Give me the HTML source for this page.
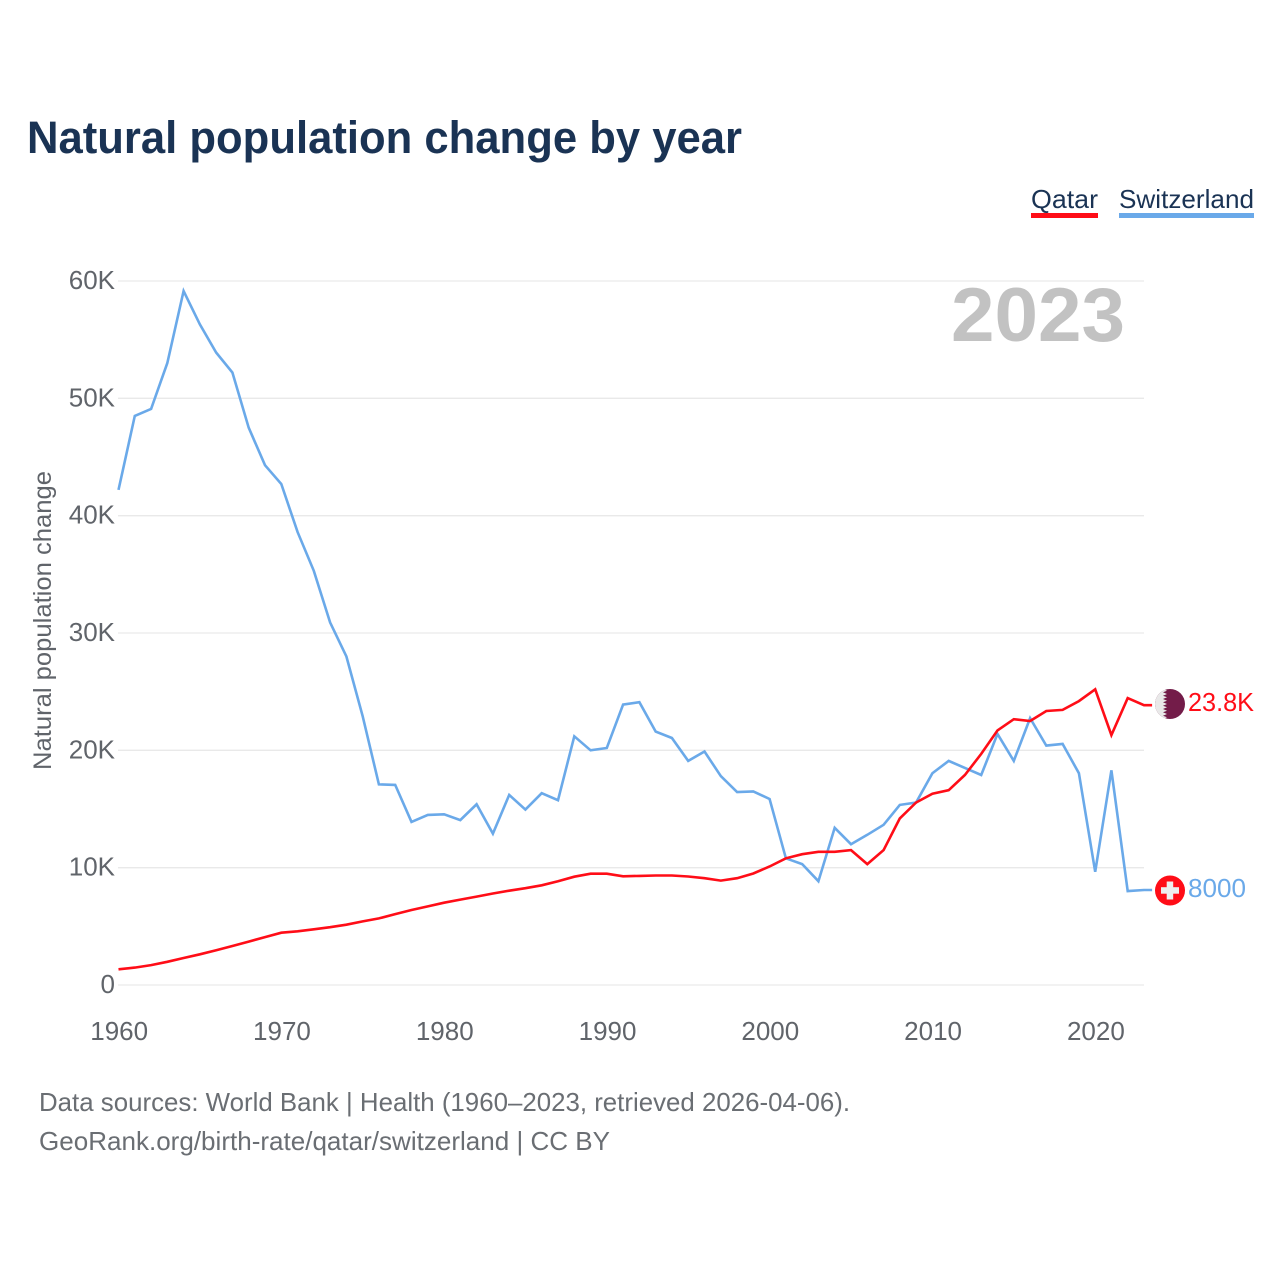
<!DOCTYPE html>
<html lang="en">
<head>
<meta charset="utf-8">
<title>Natural population change by year</title>
<style>
html,body{margin:0;padding:0;background:#fff;width:1280px;height:1280px;overflow:hidden}
svg{display:block;font-family:"Liberation Sans",sans-serif}
</style>
</head>
<body>
<svg id="chart" width="1280" height="1280" viewBox="0 0 1280 1280" xmlns="http://www.w3.org/2000/svg">
  <rect x="0" y="0" width="1280" height="1280" fill="#ffffff"/>
  <text x="27" y="153" font-size="45" font-weight="700" fill="#1a3354" textLength="715" lengthAdjust="spacingAndGlyphs">Natural population change by year</text>

  <g>
    <g>
      <text x="1031" y="208" font-size="26" fill="#1a3354" textLength="67" lengthAdjust="spacingAndGlyphs">Qatar</text>
      <rect x="1031" y="213" width="67" height="5" fill="#ff0d17"/>
    </g>
    <g>
      <text x="1119" y="208" font-size="26" fill="#1a3354" textLength="135" lengthAdjust="spacingAndGlyphs">Switzerland</text>
      <rect x="1119" y="213" width="135" height="5" fill="#6aa9e9"/>
    </g>
  </g>

  <g id="grid"></g>
  <text x="951" y="341" font-size="76" font-weight="700" fill="#c2c2c2" textLength="174" lengthAdjust="spacingAndGlyphs">2023</text>
  <g id="y-ticks"></g>
  <g id="x-ticks"></g>
  <text transform="translate(51,770) rotate(-90)" font-size="25" fill="#60646a" textLength="299" lengthAdjust="spacingAndGlyphs">Natural population change</text>

  <path id="line-switzerland" fill="none" stroke="#6aa9e9" stroke-width="2.6" stroke-linejoin="miter"/>
  <path id="line-qatar" fill="none" stroke="#ff0d17" stroke-width="2.6" stroke-linejoin="miter"/>

  <defs>
    <clipPath id="qatar-clip"><circle cx="1170" cy="704" r="15"/></clipPath>
    <clipPath id="swiss-clip"><circle cx="1170" cy="890.5" r="15"/></clipPath>
  </defs>
  <g id="flag-qatar" clip-path="url(#qatar-clip)">
    <rect x="1155" y="689" width="30" height="30" fill="#731c49"/>
    <polygon points="1155,689 1163,689 1167,690.7 1163,692.3 1167,694 1163,695.7 1167,697.3 1163,699 1167,700.7 1163,702.3 1167,704 1163,705.7 1167,707.3 1163,709 1167,710.7 1163,712.3 1167,714 1163,715.7 1167,717.3 1163,719 1155,719" fill="#e9e9e9"/>
  </g>
  <g id="flag-switzerland" clip-path="url(#swiss-clip)">
    <rect x="1155" y="875" width="30" height="31" fill="#ff0d17"/>
    <rect x="1161" y="887.2" width="18" height="6.5" fill="#eeeeee"/>
    <rect x="1166.7" y="881.5" width="6.5" height="18" fill="#eeeeee"/>
  </g>
  <text id="value-qatar" x="1188" y="711" font-size="26" fill="#ff0d17" textLength="66" lengthAdjust="spacingAndGlyphs">23.8K</text>
  <text id="value-switzerland" x="1188" y="897" font-size="26" fill="#6aa9e9" textLength="58" lengthAdjust="spacingAndGlyphs">8000</text>

  <g>
    <text x="39" y="1111" font-size="26" fill="#6a6e73" textLength="811" lengthAdjust="spacingAndGlyphs">Data sources: World Bank | Health (1960–2023, retrieved 2026-04-06).</text>
    <text x="39" y="1150" font-size="26" fill="#6a6e73" textLength="571" lengthAdjust="spacingAndGlyphs">GeoRank.org/birth-rate/qatar/switzerland | CC BY</text>
  </g>
</svg>
<script>
const startYear = 1960;
const yTickValues = [0, 10, 20, 30, 40, 50, 60];
const yTickLabels = ["0", "10K", "20K", "30K", "40K", "50K", "60K"];
const xTickYears = [1960, 1970, 1980, 1990, 2000, 2010, 2020];
const qatarValues = [1.34,1.48,1.7,1.98,2.3,2.62,2.97,3.32,3.7,4.08,4.46,4.58,4.75,4.93,5.14,5.42,5.68,6.04,6.39,6.7,7.01,7.28,7.53,7.8,8.04,8.25,8.5,8.85,9.23,9.49,9.49,9.26,9.3,9.33,9.33,9.25,9.1,8.9,9.1,9.5,10.1,10.8,11.15,11.35,11.35,11.5,10.3,11.5,14.2,15.55,16.3,16.6,17.9,19.7,21.7,22.65,22.5,23.35,23.45,24.2,25.2,21.3,24.45,23.85];
const switzerlandValues = [42.2,48.5,49.1,53.0,59.15,56.3,53.9,52.2,47.5,44.3,42.7,38.6,35.3,30.9,28.0,22.9,17.1,17.05,13.9,14.5,14.55,14.05,15.4,12.9,16.2,14.95,16.35,15.75,21.2,20.0,20.2,23.9,24.1,21.6,21.05,19.1,19.9,17.8,16.45,16.5,15.85,10.8,10.3,8.85,13.4,12.0,12.8,13.65,15.35,15.55,18.05,19.1,18.5,17.9,21.4,19.1,22.75,20.4,20.55,18.05,9.65,18.3,8.0,8.1];

const SVG_NS = "http://www.w3.org/2000/svg";
function xScale(year) { return 118.5 + (year - 1960) * (1144 - 118.5) / 63; }
function yScale(thousands) { return 985 - thousands * (985 - 281) / 60; }

const gridGroup = document.getElementById("grid");
const yTickGroup = document.getElementById("y-ticks");
const xTickGroup = document.getElementById("x-ticks");

yTickValues.forEach(function (value, i) {
  const line = document.createElementNS(SVG_NS, "line");
  
  
  line.setAttribute("x1", 118);
  line.setAttribute("x2", 1144);
  line.setAttribute("y1", yScale(value));
  line.setAttribute("y2", yScale(value));
  line.setAttribute("stroke", "#e9e9e9");
  line.setAttribute("stroke-width", "1.3");
  gridGroup.appendChild(line);

  const label = document.createElementNS(SVG_NS, "text");
  
  
  label.setAttribute("x", 115);
  label.setAttribute("y", yScale(value) + 8);
  label.setAttribute("text-anchor", "end");
  label.setAttribute("font-size", "26");
  label.setAttribute("fill", "#60646a");
  label.textContent = yTickLabels[i];
  yTickGroup.appendChild(label);
});

xTickYears.forEach(function (year) {
  const label = document.createElementNS(SVG_NS, "text");
  
  
  label.setAttribute("x", xScale(year) + 0.7);
  label.setAttribute("y", 1040);
  label.setAttribute("text-anchor", "middle");
  label.setAttribute("font-size", "26");
  label.setAttribute("fill", "#60646a");
  label.textContent = String(year);
  xTickGroup.appendChild(label);
});

function linePath(values) {
  const pts = values.map(function (v, i) {
    return xScale(startYear + i).toFixed(1) + "," + yScale(v).toFixed(1);
  });
  const last = values[values.length - 1];
  pts.push(xScale(startYear + values.length - 0.5).toFixed(1) + "," + yScale(last).toFixed(1));
  return "M" + pts.join("L");
}
document.getElementById("line-qatar").setAttribute("d", linePath(qatarValues));
document.getElementById("line-switzerland").setAttribute("d", linePath(switzerlandValues));
</script>
</body>
</html>
